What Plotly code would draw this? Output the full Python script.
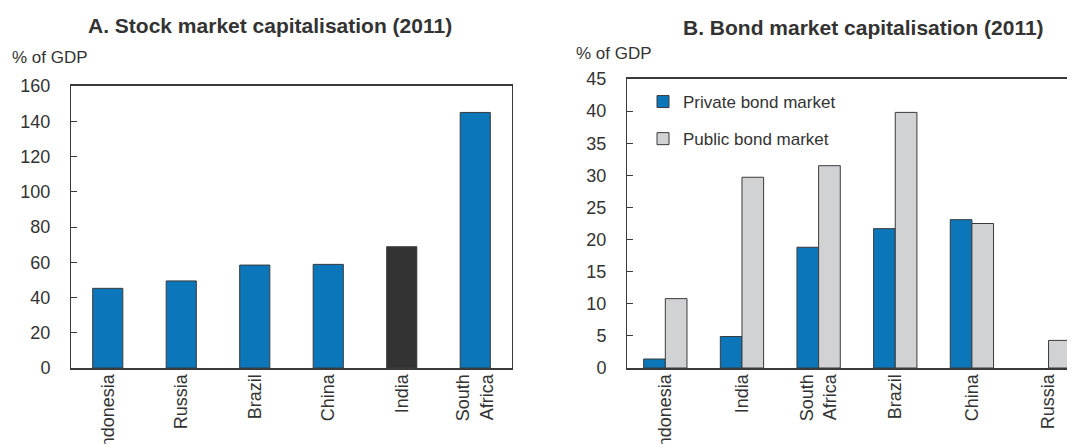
# stock and bond market capitalisation, two panels
import plotly.graph_objects as go
from plotly.subplots import make_subplots

# panel A data
stock_countries = ['Indonesia', 'Russia', 'Brazil', 'China', 'India', 'South<br>Africa']
stock_values = [45.2, 49.4, 58.4, 58.8, 68.8, 145.0]

# panel B data
bond_countries = ['Indonesia', 'India', 'South<br>Africa', 'Brazil', 'China', 'Russia']
private_bond = [1.4, 4.9, 18.8, 21.7, 23.1, None]
public_bond = [10.8, 29.7, 31.5, 39.8, 22.5, 4.3]

BLUE = '#0b76b9'
DARK = '#333333'
GREY = '#d1d2d4'
EDGE = '#3a3a3a'
TXT = '#333333'
FONT = 'Liberation Sans, Arial, sans-serif'

# page body has an 8px margin, so the figure is 8px smaller and all positions shift by 8
OFF = 8
W, H = 1075 - OFF, 444 - OFF

fig = make_subplots(rows=1, cols=2)

# India highlighted in dark
stock_colors = [DARK if c == 'India' else BLUE for c in stock_countries]
fig.add_trace(go.Bar(x=stock_countries, y=stock_values, width=0.41,
                     marker=dict(color=stock_colors, line=dict(color=EDGE, width=1)),
                     showlegend=False), row=1, col=1)

fig.add_trace(go.Bar(x=bond_countries, y=private_bond, name='Private bond market',
                     marker=dict(color=BLUE, line=dict(color=EDGE, width=1)),
                     legendgroup='a'), row=1, col=2)
fig.add_trace(go.Bar(x=bond_countries, y=public_bond, name='Public bond market',
                     marker=dict(color=GREY, line=dict(color=EDGE, width=1)),
                     legendgroup='b'), row=1, col=2)

# page pixels -> paper fractions
def px_x(p):
    return min(1.0, (p - OFF) / W)

def px_y(p):
    return 1 - (p - OFF) / H

fig.update_layout(
    width=W, height=H,
    margin=dict(l=0, r=0, t=0, b=0, autoexpand=False),
    paper_bgcolor='white', plot_bgcolor='white',
    font=dict(family=FONT, size=18, color=TXT),
    barmode='group', bargap=0.435, bargroupgap=0,
    xaxis=dict(domain=[px_x(71), px_x(512)], range=[-0.5, 5.5]),
    yaxis=dict(domain=[px_y(368), px_y(86)], range=[0, 160], dtick=20),
    xaxis2=dict(domain=[px_x(627), 1], range=[-0.5, 5.345]),
    yaxis2=dict(domain=[px_y(368), px_y(79)], range=[0, 45], dtick=5),
    legend=dict(x=px_x(643), y=px_y(84), xanchor='left', yanchor='top',
                bgcolor='rgba(0,0,0,0)', font=dict(size=17, color=TXT),
                traceorder='grouped', tracegroupgap=12, itemwidth=30),
)

fig.update_xaxes(showgrid=False, showline=True, linecolor=EDGE, linewidth=2,
                 mirror=True, ticks='', tickangle=-90, ticklabelstandoff=-3,
                 tickfont=dict(size=18, color=TXT), zeroline=False, automargin=False)
fig.update_yaxes(showgrid=False, showline=True, linecolor=EDGE, linewidth=1,
                 ticks='inside', ticklen=6, tickcolor=EDGE, tickwidth=1,
                 ticklabelstandoff=16, tickfont=dict(size=18, color=TXT),
                 zeroline=False, automargin=False)
fig.update_yaxes(mirror=True, row=1, col=1)

# titles and unit labels
fig.add_annotation(text='<b>A. Stock market capitalisation (2011)</b>', x=px_x(270), y=px_y(25),
                   xanchor='center', yanchor='middle',
                   xref='paper', yref='paper', showarrow=False, font=dict(size=21, color=TXT))
fig.add_annotation(text='<b>B. Bond market capitalisation (2011)</b>', x=px_x(863), y=px_y(28),
                   xanchor='center', yanchor='middle',
                   xref='paper', yref='paper', showarrow=False, font=dict(size=21, color=TXT))
fig.add_annotation(text='% of GDP', x=px_x(10), y=px_y(57), xanchor='left', yanchor='middle',
                   xref='paper', yref='paper', showarrow=False, font=dict(size=17, color=TXT))
fig.add_annotation(text='% of GDP', x=px_x(574), y=px_y(53), xanchor='left', yanchor='middle',
                   xref='paper', yref='paper', showarrow=False, font=dict(size=17, color=TXT))

fig.write_html('out.html')
